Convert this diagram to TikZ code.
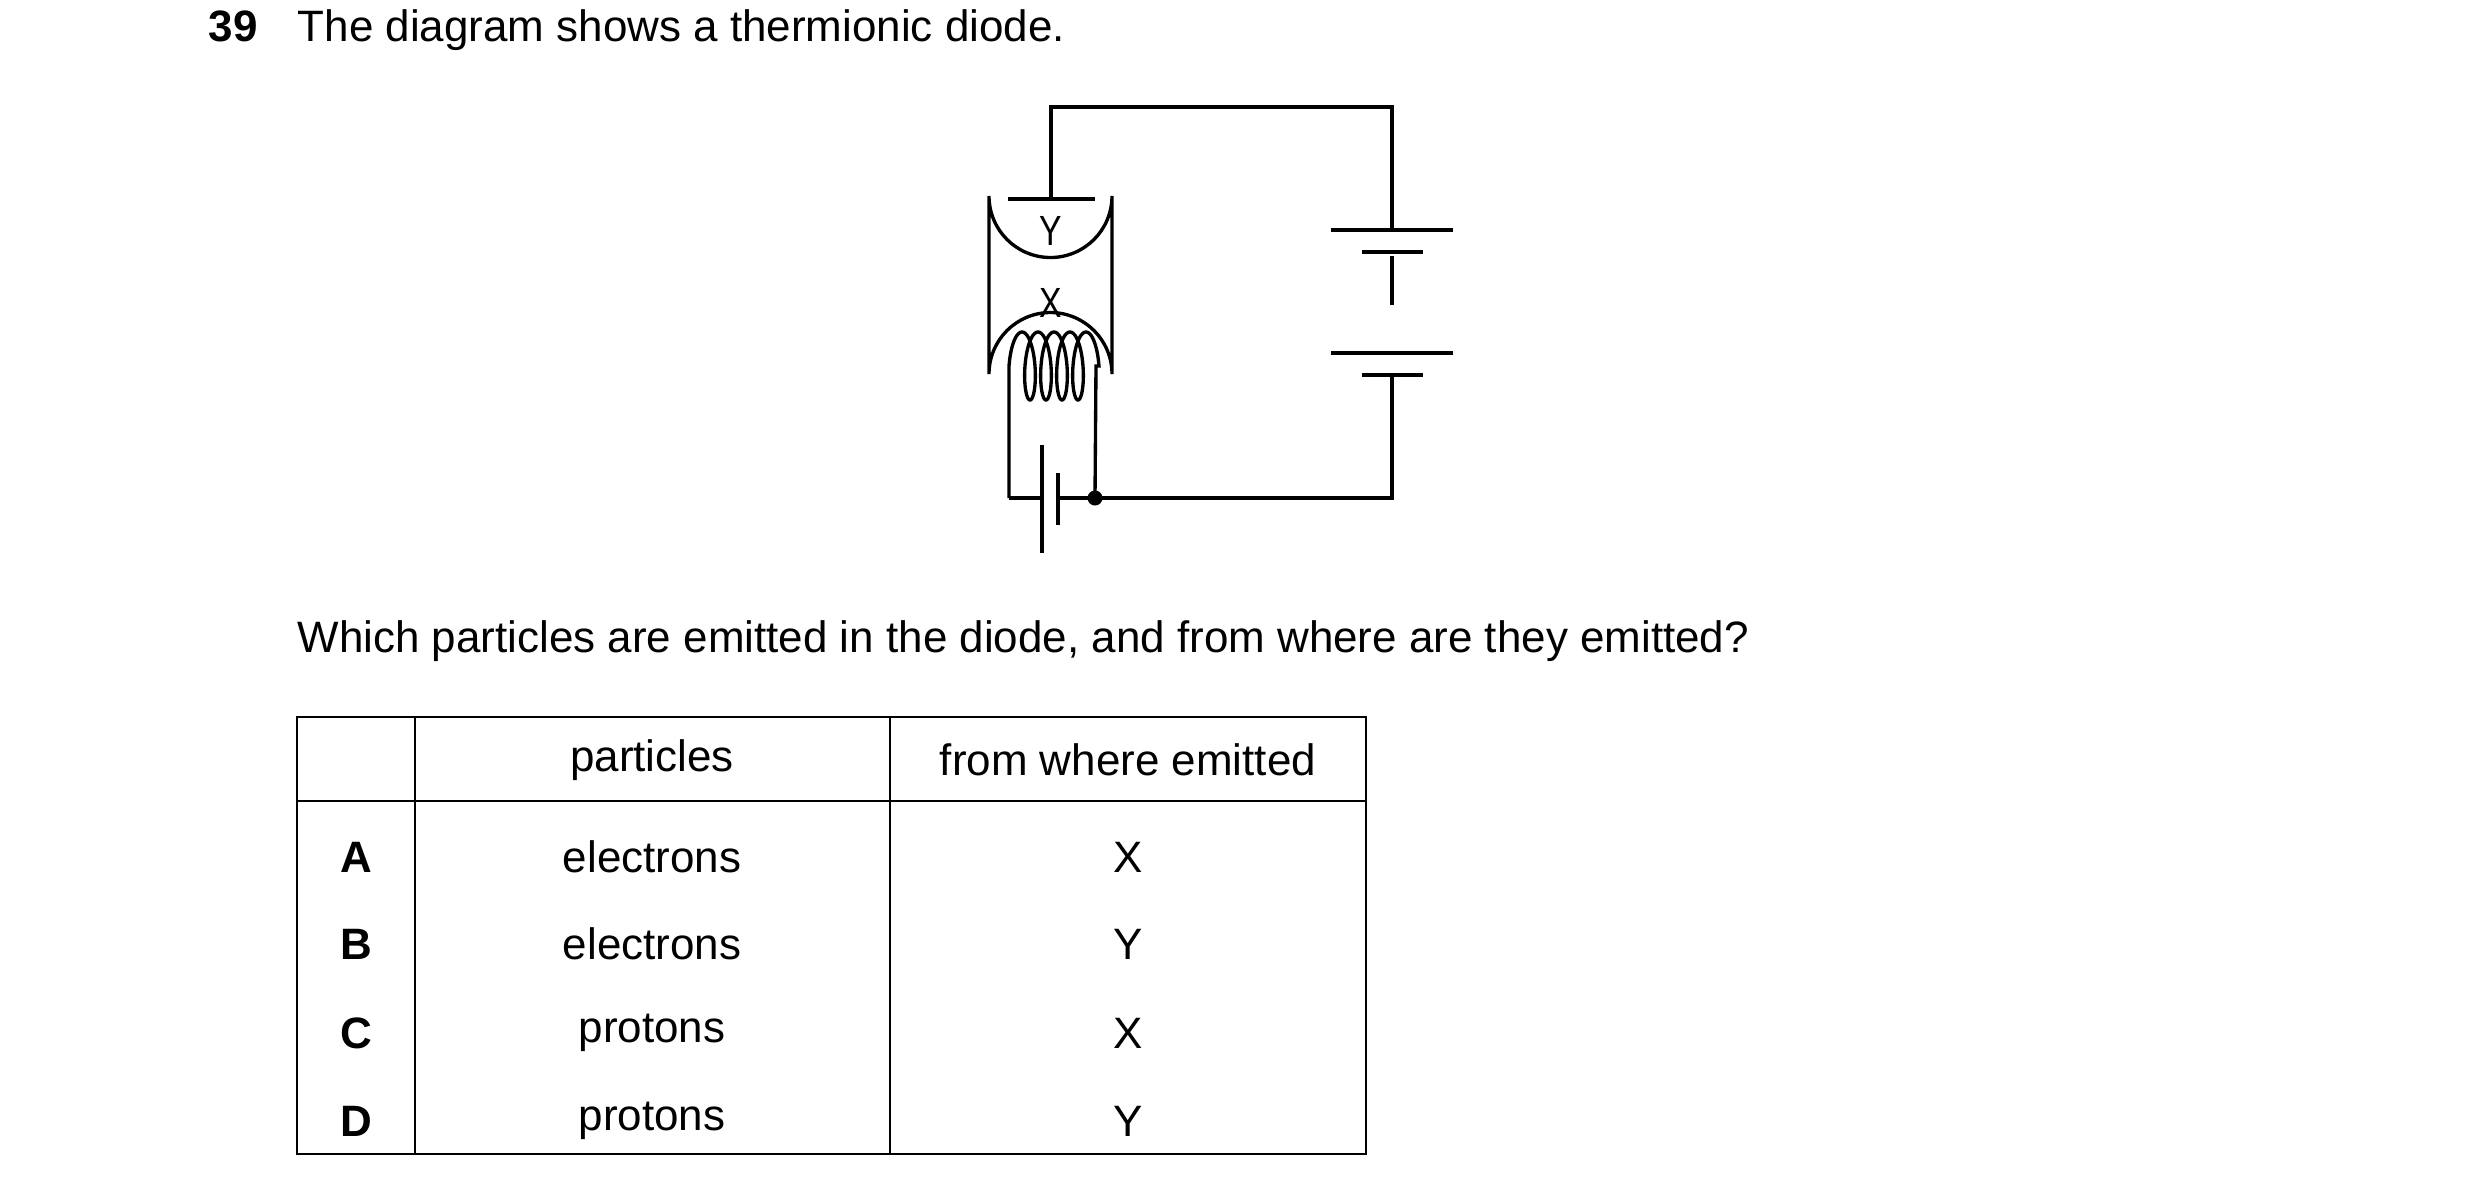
\documentclass[tikz,border=0pt]{standalone}
\usepackage{fontspec}
\setmainfont{Liberation Sans}
\begin{document}
\begin{tikzpicture}[x=0.01cm,y=-0.01cm,
  wire/.style={line width=0.95pt,line cap=butt},
  tab/.style={line width=0.7pt},
  txt/.style={font=\fontsize{12.5pt}{14pt}\selectfont,inner sep=0pt},
  lab/.style={font=\fontsize{12pt}{14pt}\selectfont,inner sep=0pt,xscale=0.8}]
\useasboundingbox (0,0) rectangle (2480,1190);
% texts
\node[txt,anchor=base west,font=\fontsize{12.5pt}{14pt}\bfseries] (num) at (208,41) {39};
\node[txt,anchor=base west] (title) at (297,41) {The diagram shows a thermionic diode.};
\node[txt,anchor=base west] (q) at (297,652) {Which particles are emitted in the diode, and from where are they emitted?};
% tube
\draw[wire] (989,196) arc[start angle=180,end angle=0,radius=61.5] -- (1112,374)
  arc[start angle=0,end angle=-180,radius=61.5] -- cycle;
% anode
\coordinate (a0) at (1051,107);
\coordinate (a1) at (1051,199);
\draw[wire] (1008,199) -- (1095,199);
\node[lab] (Y) at (1051,231) {Y};
\node[lab] (X) at (1051,303) {X};
% circuit
\coordinate (tr) at (1392,107);
\coordinate (b1) at (1392,230);
\coordinate (b4) at (1392,375);
\coordinate (br) at (1392,498);
\coordinate (j) at (1095,498);
\draw[wire] (a1) -- (a0) -- (tr) -- (b1);
\draw[wire] (1331,230) -- (1453,230);
\draw[wire] (1362,252) -- (1423,252);
\draw[wire,dash pattern=on 14 off 14] (1392,256) -- (1392,353);
\draw[wire] (1331,353) -- (1453,353);
\draw[wire] (1362,375) -- (1423,375);
\draw[wire] (b4) -- (br) -- (j);
% filament
\draw[wire] (1009,498) -- (1009,366)
  plot[domain=-4.712:23.562,samples=300,variable=\t]
  ({1030+2.546*\t-9*sin(\t r)},{366+34*cos(\t r)}) -- (1096,366) -- (j);
% heater cell
\draw[wire] (1009,498) -- (1042,498);
\draw[wire] (1042,445) -- (1042,553);
\draw[wire] (1058,473) -- (1058,525);
\draw[wire] (1058,498) -- (j);
\fill (j) circle[radius=7.5];
% table
\draw[tab] (297,717) rectangle (1366,1154);
\draw[tab] (297,801) -- (1366,801);
\draw[tab] (415,717) -- (415,1154);
\draw[tab] (890,717) -- (890,1154);
\node[txt] (h1) at (652,760) {particles};
\node[txt] (h2) at (1128,760) {from where emitted};
\foreach \L/\p/\w/\y in {A/electrons/X/857,B/electrons/Y/944,C/protons/X/1033,D/protons/Y/1121}{
  \node[txt,font=\fontsize{12.5pt}{14pt}\bfseries] (l\L) at (356,\y) {\L};
  \node[txt] (p\L) at (652,\y) {\p};
  \node[txt] (w\L) at (1128,\y) {\w};
}
\end{tikzpicture}
\end{document}
